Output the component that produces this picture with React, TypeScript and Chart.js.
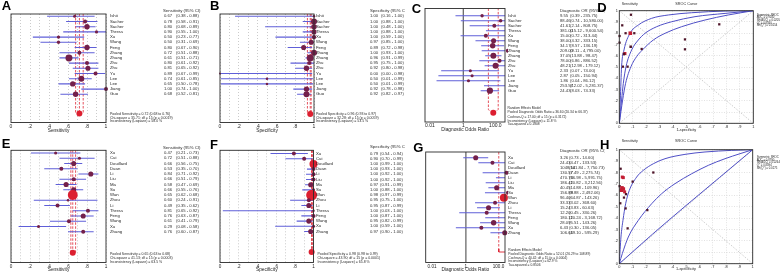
import React, { useEffect, useRef } from "react";
import { Chart, registerables } from "chart.js";

Chart.register(...registerables);

// ---------------- DATA ----------------
const studiesTop = ["Ishii", "Sacher", "Sacher", "Thress", "Xu", "Wang", "Feng", "Zhang", "Zhang", "Zhu", "Zhu", "Yu", "Lee", "Lee", "Jiang", "Guo"];
const studiesBottom = ["Xu", "Cui", "Douillard", "Duan", "Li", "Liu", "Ma", "Su", "Wan", "Zhou", "Li", "Thress", "Feng", "Wang", "Xu", "Zhang"];

// A: sensitivity (top group)
const sensA = [0.67, 0.78, 0.80, 0.90, 0.50, 0.50, 0.80, 0.72, 0.61, 0.80, 0.81, 0.89, 0.74, 0.65, 1.00, 0.68];
const sensALo = [0.38, 0.58, 0.68, 0.55, 0.23, 0.31, 0.67, 0.51, 0.51, 0.61, 0.65, 0.67, 0.61, 0.50, 0.74, 0.52];
const sensAHi = [0.88, 0.91, 0.89, 1.00, 0.77, 0.69, 0.90, 0.88, 0.71, 0.92, 0.92, 0.99, 0.85, 0.78, 1.00, 0.81];
const weightsA = [3, 5, 9, 3, 3.5, 3.5, 9, 5, 15, 5, 8, 5, 11, 9, 5, 9];
const pooledA = [0.72, 0.68, 0.76];
const statsA = ["Pooled Sensitivity = 0.72 (0.68 to 0.76)", "Chi-square = 35.71; df = 15 (p = 0.0019)", "Inconsistency (I-square) = 58.0 %"];

// B: specificity (top group)
const specB = [1.00, 1.00, 1.00, 1.00, 1.00, 0.97, 0.89, 1.00, 0.96, 0.95, 0.92, 0.00, 0.50, 0.50, 0.92, 0.92];
const specBLo = [0.16, 0.88, 0.48, 0.88, 0.59, 0.85, 0.72, 0.93, 0.91, 0.75, 0.80, 0.00, 0.01, 0.01, 0.78, 0.82];
const specBHi = [1.00, 1.00, 1.00, 1.00, 1.00, 1.00, 0.98, 1.00, 0.99, 1.00, 0.98, 0.98, 0.99, 0.99, 0.98, 0.97];
const weightsB = [2, 11, 9, 8, 6, 8, 8, 11, 15, 5, 9, 1.2, 2, 2, 9, 11];
const pooledB = [0.96, 0.93, 0.97];
const statsB = ["Pooled Specificity = 0.96 (0.93 to 0.97)", "Chi-square = 32.28; df = 15 (p = 0.0059)", "Inconsistency (I-square) = 53.5 %"];

// C: diagnostic odds ratio (top group)
const dorC = [9.55, 88.46, 41.61, 381.00, 15.00, 38.00, 34.17, 209.00, 37.05, 78.00, 48.21, 2.33, 2.87, 1.86, 253.57, 24.43];
const dorCLo = [0.39, 0.74, 2.14, 15.12, 0.72, 4.32, 8.57, 9.11, 13.88, 6.86, 12.98, 0.07, 0.05, 0.04, 12.02, 8.03];
const dorCHi = [235.75, 10580.00, 808.75, 9600.54, 313.44, 333.15, 136.19, 4795.00, 98.47, 886.52, 179.12, 74.00, 150.94, 86.12, 5281.37, 74.33];
const weightsC = [3.5, 4, 5, 4, 5, 8, 9, 5, 11, 5, 11, 3, 3, 3, 5, 12];
const pooledC = [36.60, 20.34, 66.37];
const statsC = ["Random Effects Model", "Pooled Diagnostic Odds Ratio = 36.60 (20.34 to 66.37)", "Cochran-Q = 17.00; df = 15 (p = 0.3172)", "Inconsistency (I-square) = 11.8 %", "Tau-squared = 0.1808"];

// D: SROC (top group)
const srocDFpr = [0.087, 0.022, 0.002, 0.002, 0.047, 0.082, 0.112, 0.085, 0.042, 0.035, 0.027, 0.062, 0.167, 0.746, 0.490, 0.490];
const srocDTpr = [0.964, 0.870, 0.775, 0.716, 0.800, 0.800, 0.800, 0.680, 0.620, 0.615, 0.503, 0.503, 0.660, 0.879, 0.745, 0.657];
const srocDWeights = [3, 3, 3, 3, 3, 9, 3, 4, 6, 4, 3, 3, 3, 3, 3, 3];
const curveD1X = [0, 0.0075, 0.017, 0.035, 0.080, 0.142, 0.241, 0.366, 0.540, 0.789, 1];
const curveD1Y = [0, 0.207, 0.503, 0.651, 0.799, 0.873, 0.932, 0.962, 0.982, 0.997, 1];
const curveD2X = [0, 0.017, 0.030, 0.050, 0.092, 0.142, 0.192, 0.279, 0.391, 0.565, 0.789, 1];
const curveD2Y = [0, 0.207, 0.355, 0.503, 0.651, 0.740, 0.799, 0.858, 0.902, 0.947, 0.976, 1];
const curveD3X = [0, 0.025, 0.047, 0.087, 0.129, 0.172, 0.254, 0.341, 0.465, 0.639, 0.813, 1];
const curveD3Y = [0, 0.207, 0.355, 0.503, 0.592, 0.651, 0.740, 0.799, 0.858, 0.917, 0.962, 1];
const legendD = ["Symmetric SROC", "AUC = 0.9240", "SE(AUC) = 0.0205", "Q* = 0.8580", "SE(Q*) = 0.0254"];

// E: sensitivity (bottom group)
const sensE = [0.47, 0.72, 0.66, 0.53, 0.84, 0.66, 0.58, 0.66, 0.65, 0.60, 0.49, 0.81, 0.76, 0.61, 0.29, 0.76];
const sensELo = [0.21, 0.51, 0.56, 0.35, 0.71, 0.51, 0.47, 0.55, 0.62, 0.24, 0.35, 0.65, 0.63, 0.41, 0.08, 0.60];
const sensEHi = [0.73, 0.88, 0.75, 0.70, 0.92, 0.79, 0.69, 0.76, 0.68, 0.91, 0.62, 0.92, 0.87, 0.79, 0.58, 0.87];
const weightsE = [3, 3, 8, 5, 8, 5, 8, 8, 30, 2, 5, 5, 8, 5, 3, 5];
const pooledE = [0.65, 0.63, 0.68];
const statsE = ["Pooled Sensitivity = 0.65 (0.63 to 0.68)", "Chi-square = 41.13; df = 15 (p = 0.0003)", "Inconsistency (I-square) = 63.5 %"];

// F: specificity (bottom group)
const specF = [0.79, 0.90, 1.00, 1.00, 1.00, 1.00, 0.97, 1.00, 0.98, 0.95, 0.95, 1.00, 1.00, 0.95, 1.00, 0.97];
const specFLo = [0.54, 0.70, 0.99, 0.93, 0.92, 0.92, 0.91, 0.88, 0.97, 0.75, 0.87, 0.03, 0.87, 0.82, 0.59, 0.90];
const specFHi = [0.94, 0.99, 1.00, 1.00, 1.00, 1.00, 0.99, 1.00, 0.99, 1.00, 0.99, 1.00, 1.00, 0.99, 1.00, 1.00];
const weightsF = [5, 5, 20, 5, 5, 5, 8, 3, 37, 5, 8, 2, 5, 8, 3, 8];
const pooledF = [0.98, 0.98, 0.99];
const statsF = ["Pooled Specificity = 0.98 (0.98 to 0.99)", "Chi-square = 43.90; df = 15 (p = 0.0001)", "Inconsistency (I-square) = 65.8 %"];

// G: diagnostic odds ratio (bottom group)
const dorG = [3.26, 24.43, 1048.50, 130.57, 470.76, 186.42, 40.45, 156.88, 96.40, 33.33, 15.24, 12.20, 180.12, 28.09, 6.43, 106.64];
const dorGLo = [0.73, 4.47, 141.84, 7.49, 36.98, 10.82, 14.88, 9.88, 64.87, 3.02, 3.83, 0.45, 10.24, 5.51, 0.30, 19.10];
const dorGHi = [14.60, 133.53, 7750.73, 2275.74, 5991.75, 3212.56, 109.96, 2492.06, 143.26, 368.60, 60.63, 330.26, 3168.72, 143.26, 136.05, 595.29];
const weightsG = [8, 5, 5, 5, 5, 5, 8, 5, 20, 5, 8, 5, 5, 9, 5, 8];
const pooledG = [52.01, 26.29, 108.89];
const statsG = ["Random Effects Model", "Pooled Diagnostic Odds Ratio = 52.01 (26.29 to 108.89)", "Cochran-Q = 40.42; df = 15 (p = 0.0004)", "Inconsistency (I-square) = 62.9 %", "Tau-squared = 0.8506"];

// H: SROC (bottom group)
const srocHFpr = [0.010, 0.0225, 0.030, 0.255, 0.100, 0.0025, 0.020, 0.030, 0.015, 0.040, 0.050, 0.035, 0.0075, 0.0475, 0.210, 0.0625];
const srocHTpr = [0.833, 0.760, 0.755, 0.800, 0.720, 0.680, 0.665, 0.655, 0.645, 0.630, 0.610, 0.580, 0.530, 0.485, 0.470, 0.310];
const srocHWeights = [3, 6, 6, 3, 3, 3, 9, 9, 9, 6, 3, 3, 3, 3, 3, 3];
const curveH1X = [0, 0.0125, 0.0275, 0.0475, 0.075, 0.13, 0.18, 0.255, 0.3425, 0.4925, 0.6425, 0.8425, 1];
const curveH1Y = [0, 0.234, 0.380, 0.526, 0.643, 0.760, 0.819, 0.877, 0.921, 0.959, 0.980, 0.994, 1];
const curveH2X = [0, 0.0225, 0.0675, 0.1425, 0.2425, 0.3175, 0.4175, 0.5425, 0.6675, 0.7925, 0.905, 1];
const curveH2Y = [0, 0.088, 0.234, 0.380, 0.526, 0.614, 0.702, 0.789, 0.863, 0.921, 0.965, 1];
const curveH3X = [0, 0.25, 0.5, 0.75, 1];
const curveH3Y = [0, 0.26, 0.51, 0.755, 1];
const legendH = ["Symmetric SROC", "AUC = 0.8790", "SE(AUC) = 0.0264", "Q* = 0.8094", "SE(Q*) = 0.0275"];

// tick labels
const propTickValues = [0, 0.2, 0.4, 0.6, 0.8, 1];
const propTickLabels = ["0", ".2", ".4", ".6", ".8", "1"];
const dorTickValues = [0.01, 1, 100];
const dorTickLabels = ["0.01", "1", "100.0"];
const srocTickLabels = ["0", ".1", ".2", ".3", ".4", ".5", ".6", ".7", ".8", ".9", "1"];
const chanceX = [0, 1];
const chanceY = [0, 1];
const qLineY = [1, 0];

// ---------------- STYLE ----------------
const FONT = "'Liberation Sans', Arial, Helvetica, sans-serif";
const BLUE = "#5f5fd8";
const CURVE = "#4f4fc6";
const MAROON = "#74204a";
const RED = "#dc1f30";
const DASH_RED = "#e2404c";
const TEXT = "#1e1e1e";

type Box = { l: number; r: number; t: number; b: number };
type Pos = { left: number; top: number; w: number; h: number };

interface ForestPanel {
  id: string; letter: string; letterX: number; letterY: number;
  canvas: Pos; box: Box; y0: number; dy: number; pooledY: number;
  kind: "prop" | "dor"; xMin: number; xMax: number; axisTitle: string;
  names: string[]; est: number[]; lo: number[]; hi: number[]; weights: number[];
  pooled: number[]; header: string; headerX: number; headerY: number;
  labelX: number; valueX: number; ciX: number;
  stats: string[]; statsX: number; statsY: number[]; xAxisH: number;
  dorStyle?: "diamond" | "bracket";
}

interface SrocPanel {
  id: string; letter: string; letterX: number; letterY: number;
  canvas: Pos; box: Box; fpr: number[]; tpr: number[]; weights: number[];
  curves: { x: number[]; y: number[] }[]; legend: string[]; legendX: number; legendY: number[];
  titleY: number; xAxisH: number;
}

const forestPanels: ForestPanel[] = [
  { id: "A", letter: "A", letterX: 1.7, letterY: 10.3, canvas: { left: 0, top: 0, w: 212, h: 137 }, box: { l: 11, r: 106, t: 14, b: 122.5 },
    y0: 16.3, dy: 5.2, pooledY: 113.5, kind: "prop", xMin: 0, xMax: 1, axisTitle: "Sensitivity",
    names: studiesTop, est: sensA, lo: sensALo, hi: sensAHi, weights: weightsA, pooled: pooledA,
    header: "Sensitivity (95% CI)", headerX: 163, headerY: 10.7, labelX: 110, valueX: 164, ciX: 176,
    stats: statsA, statsX: 110, statsY: [114, 117.7, 121.3], xAxisH: 11 },
  { id: "B", letter: "B", letterX: 210, letterY: 10, canvas: { left: 205, top: 0, w: 200, h: 137 }, box: { l: 220, r: 314, t: 14, b: 122.5 },
    y0: 16.3, dy: 5.2, pooledY: 114, kind: "prop", xMin: 0, xMax: 1, axisTitle: "Specificity",
    names: studiesTop, est: specB, lo: specBLo, hi: specBHi, weights: weightsB, pooled: pooledB,
    header: "Specificity (95% CI)", headerX: 370, headerY: 10.7, labelX: 316, valueX: 370, ciX: 381,
    stats: statsB, statsX: 316, statsY: [114, 117.7, 121.3], xAxisH: 11 },
  { id: "C", letter: "C", letterX: 411.7, letterY: 13.3, canvas: { left: 405, top: 0, w: 200, h: 137 }, box: { l: 425, r: 505, t: 8.5, b: 122 },
    y0: 15.7, dy: 5.0, pooledY: 112.7, kind: "dor", xMin: 0.01, xMax: 150, axisTitle: "Diagnostic Odds Ratio",
    names: studiesTop, est: dorC, lo: dorCLo, hi: dorCHi, weights: weightsC, pooled: pooledC,
    header: "Diagnostic OR (95% CI)", headerX: 560, headerY: 10.7, labelX: 508, valueX: 560, ciX: 570,
    stats: statsC, statsX: 507.5, statsY: [108.3, 112.5, 116.6, 120.6, 124.5], xAxisH: 11, dorStyle: "diamond" },
  { id: "E", letter: "E", letterX: 1.7, letterY: 148, canvas: { left: 0, top: 137, w: 212, h: 138 }, box: { l: 11, r: 106, t: 150.3, b: 262.5 },
    y0: 153, dy: 5.25, pooledY: 252.7, kind: "prop", xMin: 0, xMax: 1, axisTitle: "Sensitivity",
    names: studiesBottom, est: sensE, lo: sensELo, hi: sensEHi, weights: weightsE, pooled: pooledE,
    header: "Sensitivity (95% CI)", headerX: 163, headerY: 147.7, labelX: 110, valueX: 164, ciX: 176,
    stats: statsE, statsX: 110, statsY: [254, 258, 262], xAxisH: 10 },
  { id: "F", letter: "F", letterX: 210, letterY: 148.7, canvas: { left: 205, top: 137, w: 200, h: 138 }, box: { l: 220, r: 313.5, t: 150.3, b: 262.5 },
    y0: 153.5, dy: 5.2, pooledY: 252, kind: "prop", xMin: 0, xMax: 1, axisTitle: "Specificity",
    names: studiesBottom, est: specF, lo: specFLo, hi: specFHi, weights: weightsF, pooled: pooledF,
    header: "Specificity (95% CI)", headerX: 370, headerY: 147.3, labelX: 316, valueX: 370, ciX: 380,
    stats: statsF, statsX: 317.5, statsY: [254.3, 258.3, 262], xAxisH: 10 },
  { id: "G", letter: "G", letterX: 413.3, letterY: 151.7, canvas: { left: 405, top: 137, w: 200, h: 138 }, box: { l: 425.7, r: 505, t: 152, b: 262.5 },
    y0: 157.7, dy: 5.0, pooledY: 252, kind: "dor", xMin: 0.008, xMax: 110, axisTitle: "Diagnostic Odds Ratio",
    names: studiesBottom, est: dorG, lo: dorGLo, hi: dorGHi, weights: weightsG, pooled: pooledG,
    header: "Diagnostic OR (95% CI)", headerX: 560, headerY: 151, labelX: 508, valueX: 560, ciX: 569,
    stats: statsG, statsX: 508.3, statsY: [249.7, 253.7, 257.7, 261.3, 265.3], xAxisH: 10, dorStyle: "bracket" },
];

const srocPanels: SrocPanel[] = [
  { id: "D", letter: "D", letterX: 597.3, letterY: 11.7, canvas: { left: 592, top: 0, w: 189, h: 137 }, box: { l: 619.3, r: 753.3, t: 10.7, b: 123.3 },
    fpr: srocDFpr, tpr: srocDTpr, weights: srocDWeights,
    curves: [{ x: curveD1X, y: curveD1Y }, { x: curveD2X, y: curveD2Y }, { x: curveD3X, y: curveD3Y }],
    legend: legendD, legendX: 756.7, legendY: [15, 17.7, 20.3, 23, 25.7], titleY: 4, xAxisH: 9 },
  { id: "H", letter: "H", letterX: 600, letterY: 148.7, canvas: { left: 592, top: 137, w: 189, h: 138 }, box: { l: 619.3, r: 752.7, t: 149.7, b: 263.7 },
    fpr: srocHFpr, tpr: srocHTpr, weights: srocHWeights,
    curves: [{ x: curveH1X, y: curveH1Y }, { x: curveH2X, y: curveH2Y }, { x: curveH3X, y: curveH3Y }],
    legend: legendH, legendX: 756.7, legendY: [157, 159.8, 162.6, 165.4, 168.2], titleY: 140.5, xAxisH: 8 },
];

// ---------------- HELPERS ----------------
function txt(ctx: CanvasRenderingContext2D, s: string, x: number, y: number, size: number,
  o: { align?: CanvasTextAlign; baseline?: CanvasTextBaseline; bold?: boolean; color?: string } = {}) {
  ctx.font = `${o.bold ? "bold " : ""}${size}px ${FONT}`;
  ctx.textAlign = o.align || "left";
  ctx.textBaseline = o.baseline || "middle";
  ctx.fillStyle = o.color || TEXT;
  ctx.fillText(s, x, y);
}

function fmtCI(v: number) {
  return v >= 1000 ? v.toLocaleString("en-US", { minimumFractionDigits: 2, maximumFractionDigits: 2 }) : v.toFixed(2);
}

function radiusOf(w: number) { return 0.9 * Math.sqrt(w); }

function forestConfig(p: ForestPanel): any {
  const yMin = (p.box.t - p.y0) / p.dy;
  const yMax = (p.box.b - p.y0) / p.dy;
  const pr = (p.pooledY - p.y0) / p.dy;
  const [pe, pl, ph] = p.pooled;
  const datasets: any[] = [];
  const line = (data: any[], color: string, width: number, dash: number[] = []) => ({
    data, showLine: true, borderColor: color, borderWidth: width, borderDash: dash, pointRadius: 0, fill: false,
  });

  datasets.push({
    data: p.est.map((v, i) => ({ x: v, y: i })), showLine: false,
    pointRadius: p.weights.map(radiusOf),
    pointBackgroundColor: p.weights.map((w) => (w >= 18 ? RED : MAROON)),
    pointBorderWidth: 0, clip: p.kind === "dor" ? 3 : 5,
  });
  if (!(p.kind === "dor" && p.dorStyle === "bracket")) {
    datasets.push({ data: [{ x: pe, y: pr }], showLine: false, pointRadius: 3, pointBackgroundColor: RED, pointBorderWidth: 0, clip: false });
  }
  p.est.forEach((_, i) => {
    datasets.push({ ...line([{ x: p.lo[i], y: i }, { x: p.hi[i], y: i }], BLUE, 1.1), clip: 0 });
  });
  if (p.kind === "prop") {
    [pl, pe, ph].forEach((v) => datasets.push(line([{ x: v, y: yMin }, { x: v, y: pr }], DASH_RED, 0.9, [2.5, 1.5])));
  } else if (p.dorStyle === "diamond") {
    datasets.push(line([{ x: pl, y: yMin }, { x: pl, y: pr - 0.6 }, { x: pe, y: pr }, { x: ph, y: pr - 0.6 }, { x: ph, y: yMin }], DASH_RED, 0.9, [2.5, 1.5]));
  } else {
    datasets.push(line([{ x: pe, y: yMin }, { x: pe, y: pr - 0.6 }], DASH_RED, 0.9, [2.5, 1.5]));
    datasets.push({ ...line([{ x: pe, y: pr - 0.6 }, { x: pe, y: pr }, { x: p.xMax, y: pr }], RED, 0.9), clip: 0 });
  }
  if (p.kind === "dor") {
    datasets.push(line([{ x: 1, y: yMin }, { x: 1, y: yMax }], "#6a6a6a", 1.3));
  }

  const tickFont = { family: FONT, size: p.id === "E" || p.id === "F" || p.id === "G" ? 4.6 : 5 };
  const titleFont = { family: FONT, size: 4.8 };
  const xScale: any = p.kind === "prop"
    ? {
        type: "linear", min: p.xMin, max: p.xMax,
        afterFit: (s: any) => { s.height = p.xAxisH; },
        ticks: {
          stepSize: 0.1, autoSkip: false, maxRotation: 0, minRotation: 0, padding: 1, font: tickFont, color: TEXT,
          callback: (v: any) => {
            const k = propTickValues.findIndex((t) => Math.abs(t - Number(v)) < 1e-6);
            return k >= 0 ? propTickLabels[k] : "";
          },
        },
        grid: { color: "#b4b4b4", lineWidth: 0.7, drawTicks: false },
        border: { display: false, dash: [1, 2] },
        title: { display: true, text: p.axisTitle, font: titleFont, padding: 0, color: TEXT },
      }
    : {
        type: "logarithmic", min: p.xMin, max: p.xMax,
        afterFit: (s: any) => { s.height = p.xAxisH; },
        afterBuildTicks: (s: any) => { s.ticks = dorTickValues.map((v) => ({ value: v })); },
        ticks: {
          autoSkip: false, maxRotation: 0, minRotation: 0, padding: 1, font: tickFont, color: TEXT, align: "inner",
          callback: (_v: any, i: number) => dorTickLabels[i],
        },
        grid: { display: false, drawTicks: false },
        border: { display: false },
        title: { display: true, text: p.axisTitle, font: titleFont, padding: 0, color: TEXT },
      };

  const c = p.canvas;
  const plugin = {
    id: "forestText" + p.id,
    afterDraw(chart: any) {
      const ctx: CanvasRenderingContext2D = chart.ctx;
      const a = chart.chartArea;
      const ys = chart.scales.y;
      const ox = c.left, oy = c.top;
      ctx.save();
      ctx.strokeStyle = "#2a2a2a";
      ctx.lineWidth = 0.9;
      ctx.strokeRect(a.left, a.top, a.right - a.left, a.bottom - a.top);
      txt(ctx, p.letter, p.letterX - ox, p.letterY - oy, 13, { bold: true, baseline: "alphabetic", color: "#000" });
      txt(ctx, p.header, p.headerX - ox, p.headerY - oy, 4.3, { color: "#2a2a2a" });
      p.names.forEach((nm, i) => {
        const y = ys.getPixelForValue(i);
        txt(ctx, nm, p.labelX - ox, y, 4.3);
        txt(ctx, p.est[i].toFixed(2), p.valueX - ox, y, 4.2, { color: "#333" });
        txt(ctx, `(${fmtCI(p.lo[i])} - ${fmtCI(p.hi[i])})`, p.ciX - ox, y, 4.2, { color: "#333" });
      });
      p.stats.forEach((s, k) => txt(ctx, s, p.statsX - ox, p.statsY[k] - oy, p.kind === "dor" ? 3.3 : 3.5, { color: "#2a2a2a" }));
      ctx.restore();
    },
  };

  return {
    type: "scatter",
    data: { datasets },
    plugins: [plugin],
    options: {
      responsive: false, animation: false, events: [], devicePixelRatio: 1,
      layout: { padding: { left: p.box.l - c.left, right: c.left + c.w - p.box.r, top: p.box.t - c.top, bottom: c.top + c.h - p.box.b - p.xAxisH } },
      plugins: { legend: { display: false }, tooltip: { enabled: false }, title: { display: false } },
      scales: { x: xScale, y: { type: "linear", reverse: true, min: yMin, max: yMax, display: false } },
    },
  };
}

function srocConfig(p: SrocPanel): any {
  const datasets: any[] = [];
  datasets.push({
    data: p.fpr.map((x, i) => ({ x, y: p.tpr[i] })), showLine: false, pointStyle: "rect",
    pointRadius: p.weights.map((w) => 0.75 * Math.sqrt(w) + 0.3),
    pointBackgroundColor: p.weights.map((w) => (w >= 6 ? "#c41e34" : "#4e1428")),
    pointBorderWidth: 0, clip: false,
  });
  p.curves.forEach((cv) => datasets.push({
    data: cv.x.map((x, i) => ({ x, y: cv.y[i] })), showLine: true, borderColor: CURVE, borderWidth: 1,
    pointRadius: 0, cubicInterpolationMode: "monotone", fill: false,
  }));
  datasets.push({ data: chanceX.map((x, i) => ({ x, y: chanceY[i] })), showLine: true, borderColor: "#c0c0c0", borderWidth: 0.8, borderDash: [1.5, 1.5], pointRadius: 0 });
  datasets.push({ data: chanceX.map((x, i) => ({ x, y: qLineY[i] })), showLine: true, borderColor: "#c0c0c0", borderWidth: 0.8, borderDash: [1.5, 1.5], pointRadius: 0 });

  const yAxisW = 8;
  const c = p.canvas;
  const tickFont = { family: FONT, size: 3.9 };
  const tickCb = (v: any) => {
    const k = Math.round(Number(v) * 10);
    return Math.abs(Number(v) * 10 - k) < 1e-6 ? srocTickLabels[k] : "";
  };
  const plugin = {
    id: "srocText" + p.id,
    afterDraw(chart: any) {
      const ctx: CanvasRenderingContext2D = chart.ctx;
      const a = chart.chartArea;
      const ox = c.left, oy = c.top;
      ctx.save();
      ctx.strokeStyle = "#2a2a2a";
      ctx.lineWidth = 0.9;
      ctx.strokeRect(a.left, a.top, a.right - a.left, a.bottom - a.top);
      txt(ctx, p.letter, p.letterX - ox, p.letterY - oy, 13, { bold: true, baseline: "alphabetic", color: "#000" });
      txt(ctx, "Sensitivity", a.left + 2.4, p.titleY - oy, 3.6, { color: "#2a2a2a" });
      txt(ctx, "SROC Curve", (a.left + a.right) / 2, p.titleY - oy, 3.8, { align: "center", color: "#2a2a2a" });
      p.legend.forEach((s, k) => txt(ctx, s, p.legendX - ox, p.legendY[k] - oy, 2.8, { color: "#2a2a2a" }));
      ctx.restore();
    },
  };
  return {
    type: "scatter",
    data: { datasets },
    plugins: [plugin],
    options: {
      responsive: false, animation: false, events: [], devicePixelRatio: 1,
      layout: { padding: { left: p.box.l - c.left - yAxisW, right: c.left + c.w - p.box.r, top: p.box.t - c.top, bottom: c.top + c.h - p.box.b - p.xAxisH } },
      plugins: { legend: { display: false }, tooltip: { enabled: false }, title: { display: false } },
      scales: {
        x: {
          type: "linear", min: 0, max: 1,
          afterFit: (s: any) => { s.height = p.xAxisH; },
          ticks: { stepSize: 0.1, autoSkip: false, maxRotation: 0, minRotation: 0, padding: 1, font: tickFont, color: TEXT, callback: tickCb },
          grid: { color: "#cfcfcf", lineWidth: 0.6, drawTicks: false },
          border: { display: false, dash: [1, 1.5] },
          title: { display: true, text: "1-specificity", font: { family: FONT, size: 3.8 }, padding: 0, color: TEXT },
        },
        y: {
          type: "linear", min: 0, max: 1,
          afterFit: (s: any) => { s.width = yAxisW; },
          ticks: { stepSize: 0.1, autoSkip: false, padding: 1.5, font: tickFont, color: TEXT, callback: tickCb },
          grid: { color: "#cfcfcf", lineWidth: 0.6, drawTicks: false },
          border: { display: false, dash: [1, 1.5] },
        },
      },
    },
  };
}

function ChartCanvas({ pos, build }: { pos: Pos; build: () => any }) {
  const ref = useRef<HTMLCanvasElement>(null);
  useEffect(() => {
    const chart = new Chart(ref.current as HTMLCanvasElement, build());
    return () => chart.destroy();
  }, []);
  return (
    <canvas ref={ref} width={pos.w} height={pos.h}
      style={{ position: "absolute", left: pos.left, top: pos.top, width: pos.w, height: pos.h }} />
  );
}

export default function App() {
  return (
    <div style={{ position: "absolute", left: 0, top: 0, width: 781, height: 275, background: "#fff", overflow: "hidden" }}>
      {forestPanels.map((p) => (
        <ChartCanvas key={p.id} pos={p.canvas} build={() => forestConfig(p)} />
      ))}
      {srocPanels.map((p) => (
        <ChartCanvas key={p.id} pos={p.canvas} build={() => srocConfig(p)} />
      ))}
    </div>
  );
}
